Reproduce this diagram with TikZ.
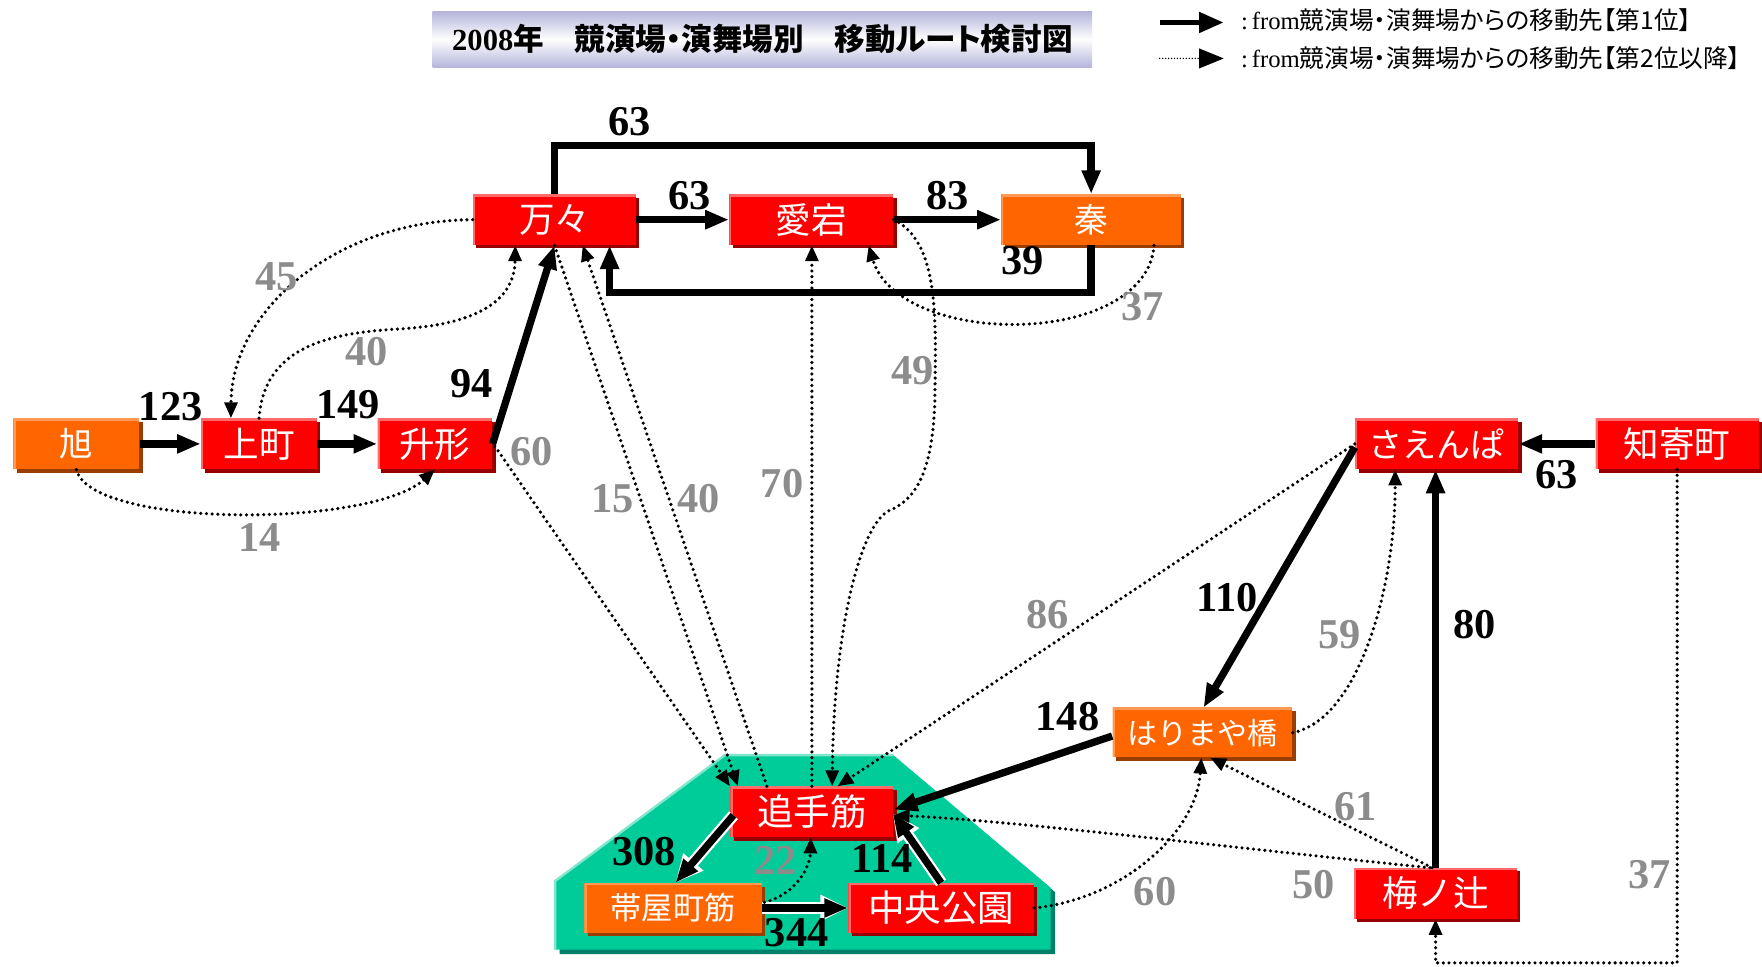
\documentclass[tikz,border=0pt]{standalone}
\usepackage{fontspec}
\setmainfont{Liberation Serif}
\newfontfamily\jp{Noto Sans CJK JP}
\newfontfamily\jpp[CharacterWidth=AlternateProportional]{Noto Sans CJK JP}
\newfontfamily\numf{Liberation Serif}
\usetikzlibrary{arrows.meta,shadows,calc}
\definecolor{bred}{HTML}{FF0000}
\definecolor{bredhi}{HTML}{FF6A6A}
\definecolor{bredsh}{HTML}{990000}
\definecolor{borg}{HTML}{FF6600}
\definecolor{borghi}{HTML}{FF9A55}
\definecolor{borgsh}{HTML}{993D00}
\definecolor{grn}{HTML}{00CC99}
\definecolor{grnhi}{HTML}{80E6CC}
\definecolor{grnsh}{HTML}{00806A}
\definecolor{numgray}{HTML}{8C8C8C}
\definecolor{lav}{HTML}{B4B4DC}
\tikzset{
  box/.style={minimum height=0.9cm, inner sep=0pt, text=white, font=\jp\fontsize{18}{20}\selectfont},
  redbox/.style={box, fill=bred,
    drop shadow={shadow xshift=1.7pt, shadow yshift=-1.7pt, opacity=1, fill=bredsh},
    path picture={\draw[line width=2.2pt, bredhi] (path picture bounding box.south west) -- (path picture bounding box.north west) -- (path picture bounding box.north east);}},
  orgbox/.style={box, fill=borg,
    drop shadow={shadow xshift=1.7pt, shadow yshift=-1.7pt, opacity=1, fill=borgsh},
    path picture={\draw[line width=2.2pt, borghi] (path picture bounding box.south west) -- (path picture bounding box.north west) -- (path picture bounding box.north east);}},
  num/.style={font=\numf\bfseries\fontsize{21.5}{22}\selectfont, inner sep=0pt},
  gnum/.style={num, text=numgray},
  first/.style={line width=3.7pt, -{Triangle[length=12pt,width=9pt]}},
  firstw/.style={first, preaction={draw=white, line width=6pt, -{Triangle[length=14pt,width=12.5pt]}}},
  second/.style={line width=1.8pt, dash pattern=on 0pt off 2.9pt, line cap=round, -{Triangle[length=8pt,width=6.5pt]}},
}
\begin{document}
\begin{tikzpicture}[x=0.02cm, y=-0.02cm]
\fill[white] (0,0) rectangle (1568,860);
\useasboundingbox (0,0) rectangle (1568,860);

% title
\node[top color=lav, bottom color=lav, middle color=white, minimum width=11.74cm, minimum height=1.0cm, inner sep=0pt] (title) at (678.5,35)
  {\fontsize{15.5}{17}\selectfont{\numf\bfseries 2008}{\jpp\bfseries 年　競演場・演舞場別　移動ルート検討図}};

% legend
\coordinate (lgA1) at (1032,20); \coordinate (lgA2) at (1089,20);
\coordinate (lgB1) at (1032,52); \coordinate (lgB2) at (1089,52);
\draw[line width=2.8pt, -{Triangle[length=12.5pt,width=10pt]}] (lgA1) -- (lgA2);
\draw[line width=0.8pt, dash pattern=on 0pt off 1.5pt, line cap=round, -{Triangle[length=12.5pt,width=10pt]}] (lgB1) -- (lgB2);
\node[anchor=west, inner sep=0pt, font=\fontsize{12.5}{14}\selectfont] (lg1) at (1104,18) {:\,from{\jpp 競演場・演舞場からの移動先【第1位】}};
\node[anchor=west, inner sep=0pt, font=\fontsize{12.5}{14}\selectfont] (lg2) at (1104,52) {:\,from{\jpp 競演場・演舞場からの移動先【第2位以降】}};

% green area
\fill[grnsh] (649,676) -- (799,676) -- (939,794) -- (939,849) -- (498,849) -- (498,788) -- cycle;
\fill[grn] (645,672) -- (795,672) -- (935,790) -- (935,845) -- (494,845) -- (494,784) -- cycle;
\draw[grnhi, line width=1.2pt] (494,845) -- (494,784) -- (645,672) -- (795,672);

% nodes
\node[redbox, minimum width=2.9cm] (man) at (493.5,195.5) {万々};
\node[redbox, minimum width=2.92cm] (ata) at (722,195.5) {愛宕};
\node[orgbox, minimum width=3.2cm, font=\jp\fontsize{17}{20}\selectfont] (hata) at (971,195.5) {秦};
\node[orgbox, minimum width=2.24cm, font=\jp\fontsize{17}{20}\selectfont] (asa) at (68,395) {旭};
\node[redbox, minimum width=2.06cm] (kami) at (230.5,395) {上町};
\node[redbox, minimum width=2.04cm] (masu) at (387,395) {升形};
\node[redbox, minimum width=2.9cm, font=\jp\fontsize{17.3}{20}\selectfont] (sae) at (1278.5,395) {さえんぱ};
\node[redbox, minimum width=2.9cm] (chi) at (1492.5,395) {知寄町};
\node[orgbox, minimum width=3.2cm, minimum height=0.88cm, font=\jp\fontsize{15.2}{18}\selectfont] (hari) at (1070,652) {はりまや橋};
\node[redbox, minimum width=2.9cm, font=\jp\fontsize{18.5}{20}\selectfont] (ote) at (722.5,722.5) {追手筋};
\node[orgbox, minimum width=3.16cm, minimum height=0.88cm, font=\jp\fontsize{15.8}{18}\selectfont] (obi) at (599,808) {帯屋町筋};
\node[redbox, minimum width=3.3cm, minimum height=0.88cm, font=\jp\fontsize{18.5}{20}\selectfont] (chuo) at (837.5,808) {中央公園};
\node[redbox, minimum width=2.9cm] (ume) at (1277.5,795) {梅ノ辻};

% first-rank connectors
\draw[first] (asa.east) -- (kami.west);
\draw[first] (kami.east) -- (masu.west);
\draw[first] (masu.east) -- (man.south);
\draw[first] (man.east) -- (ata.west);
\draw[first] (ata.east) -- (hata.west);
\draw[first] (man.north) -- ($(man.north)+(0,-43)$) -| (hata.north);
\draw[first] (hata.south) |- ($(man.south)+(49,42)$) -- ($(man.south)+(49,0)$);
\draw[first] (chi.west) -- (sae.east);
\draw[first] ($(sae.west)+(0,3)$) -- ($(hari.north)+(1,0)$);
\draw[first] ($(hari.west)+(0,3)$) -- ($(ote.east)+(0,-2)$);
\draw[first] (ume.north) -- (ume.north |- sae.south);
\draw[firstw] ($(ote.west)+(3,3)$) -- ($(obi.north)+(2,0)$);
\draw[firstw] (obi.east) -- (chuo.west);
\draw[firstw] (chuo.north) -- ($(ote.east)+(-1,1)$);

% second-rank connectors
\draw[second] (man.west) .. controls (300,196) and (206,275) .. ($(kami.north)+(-25,0)$);
\draw[second] (kami.north) .. controls (235,310) and (290,297) .. (350,293) .. controls (420,290) and (458,270) .. ($(man.south)+(-35,0)$);
\draw[second] (asa.south) .. controls (80,470) and (330,470) .. (masu.south);
\draw[second] ($(masu.east)+(2,2)$) -- (ote.north west);
\draw[second] (man.south) -- ($(ote.north west)+(7,0)$);
\draw[second] ($(ote.north)+(-40,0)$) -- ($(man.south)+(25,0)$);
\draw[second] (ote.north) -- (ote.north |- ata.south);
\draw[second] (ata.east) .. controls (835,215) and (833,280) .. (832,350) .. controls (831,420) and (815,445) .. (790,455) .. controls (765,470) and (742,560) .. ($(ote.north)+(18,0)$);
\draw[second] ($(hata.south)+(56,0)$) .. controls (1020,310) and (800,310) .. ($(ata.south)+(51,0)$);
\draw[second] (sae.west) -- ($(ote.north east)+(-50,0)$);
\draw[second] (hari.east) .. controls (1210,640) and (1242,520) .. ($(sae.south)+(-37,0)$);
\draw[second] ($(ume.north)+(-3,0)$) -- ($(hari.south)+(7,0)$);
\draw[second] ($(ume.north)+(-5,0)$) .. controls (1100,755) and (900,730) .. ($(ote.east)+(0,3)$);
\draw[second] (chuo.east) .. controls (1000,800) and (1065,740) .. ($(hari.south)+(-1,0)$);
\draw[second] ($(obi.east)+(2,-5)$) .. controls (710,795) and (721,770) .. ($(ote.south)+(-1,0)$);
\draw[second] (chi.south) |- ($(ume.south)+(0,39)$) -- (ume.south);

% labels (first rank)
\node[num] (n63a) at (560,108) {63};
\node[num] (n63b) at (614,174) {63};
\node[num] (n83) at (843,174) {83};
\node[num] (n39) at (910,232) {39};
\node[num] (n123) at (152,362) {123};
\node[num] (n149) at (310,360) {149};
\node[num] (n94) at (420,341) {94};
\node[num] (n63c) at (1385,422) {63};
\node[num] (n110) at (1092,532) {110};
\node[num] (n80) at (1312,556) {80};
\node[num] (n148) at (950,638) {148};
\node[num] (n308) at (573,758) {308};
\node[num] (n114) at (785,764) {114};
\node[num] (n344) at (709,830) {344};

% labels (second rank)
\node[gnum] (g37a) at (1017,273) {37};
\node[gnum] (g45) at (246,246) {45};
\node[gnum] (g40a) at (326,313) {40};
\node[gnum] (g60a) at (473,402) {60};
\node[gnum] (g14) at (231,478) {14};
\node[gnum] (g15) at (545,444) {15};
\node[gnum] (g40b) at (622,444) {40};
\node[gnum] (g70) at (696,430) {70};
\node[gnum] (g49) at (812,330) {49};
\node[gnum] (g86) at (932,547) {86};
\node[gnum] (g59) at (1192,565) {59};
\node[gnum] (g61) at (1206,718) {61};
\node[gnum] (g22) at (690,766) {22};
\node[gnum] (g60b) at (1028,793) {60};
\node[gnum] (g50) at (1169,787) {50};
\node[gnum] (g37b) at (1468,778) {37};
\end{tikzpicture}
\end{document}
